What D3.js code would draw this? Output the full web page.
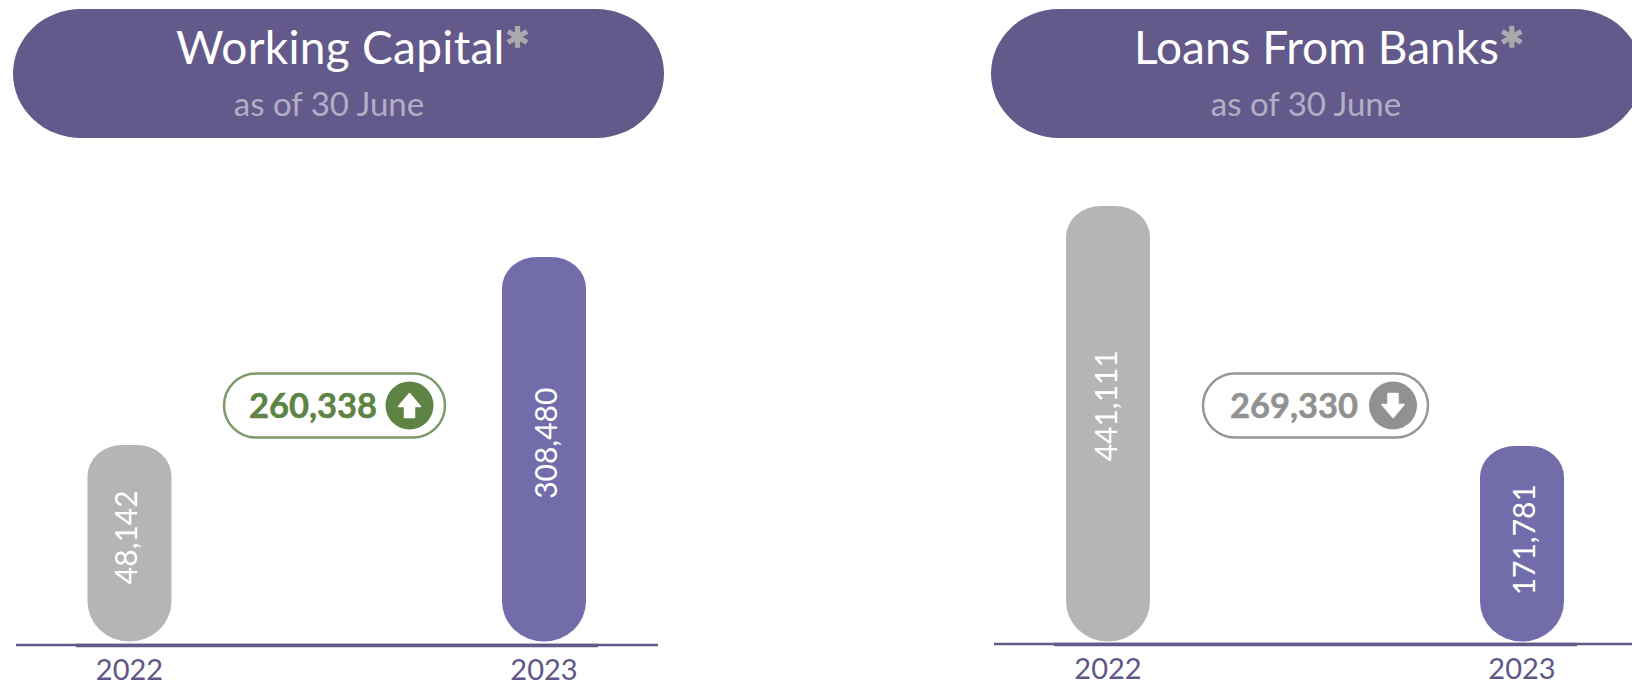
<!DOCTYPE html>
<html>
<head>
<meta charset="utf-8">
<script src="https://cdn.jsdelivr.net/npm/d3@7"></script>
<style>
  html, body { margin: 0; padding: 0; background: #fff; overflow: hidden; }
  svg { display: block; }
  text { font-family: Lato, "Noto Sans", sans-serif; }
</style>
</head>
<body>
<svg id="chart" width="1632" height="685"></svg>
<script>
// Figures in thousands, as of 30 June
const years = ["2022", "2023"];
const workingCapital = [48142, 308480];
const loansFromBanks = [441111, 171781];
const panelTitles = ["Working Capital", "Loans From Banks"];
const panelSubtitle = "as of 30 June";
const changes = [260338, 269330];
const directions = ["up", "down"];

const PURPLE = "#635a8b", BAR_PURPLE = "#736cab", GREY = "#b5b5b5";
const fmt = d3.format(",");
const svg = d3.select("#chart");
const barWidth = 84, baseY = 641.5;

// A bar with softer shoulders on top and a full round end at the bottom.
function barPath(x0, x1, top, bottom) {
  const rt = 35, rb = barWidth / 2, ryb = 40, ryt = 31;
  return `M${x0},${top + ryt}A${rt},${ryt} 0 0 1 ${x0 + rt},${top}L${x1 - rt},${top}` +
    `A${rt},${ryt} 0 0 1 ${x1},${top + ryt}L${x1},${bottom - ryb}` +
    `A${rb},${ryb} 0 0 1 ${x0 + rb},${bottom}A${rb},${ryb} 0 0 1 ${x0},${bottom - ryb}Z`;
}

const panels = [
  { title: panelTitles[0], values: workingCapital, change: changes[0], dir: directions[0],
    pill: [13, 664], titleX: 176, titleSpacing: 0.3, subX: 329, centers: [129.5, 544],
    yRange: [445, 257], thin: [16, 658], thick: [76, 598], axisY: 645, yearY: 679.5,
    badge: [224, 445], badgeColor: "#7d9a68", ink: "#5e8445", circleX: 409.5, textX: 313,
    labelShift: [[7, -6], [13, -6]] },
  { title: panelTitles[1], values: loansFromBanks, change: changes[1], dir: directions[1],
    pill: [991, 1642], titleX: 1134, titleSpacing: 0, subX: 1306, centers: [1108, 1522],
    yRange: [206, 446], thin: [994, 1632], thick: [1054, 1577], axisY: 644, yearY: 678.5,
    badge: [1203, 1428], badgeColor: "#969696", ink: "#919191", circleX: 1393, textX: 1294,
    labelShift: [[9, -18], [13, -4]] }
];

panels.forEach(p => {
  const g = svg.append("g");

  // Header pill
  g.append("rect")
    .attr("x", p.pill[0]).attr("y", 9)
    .attr("width", p.pill[1] - p.pill[0]).attr("height", 129)
    .attr("rx", 68).attr("ry", 64.5)
    .attr("fill", PURPLE);

  const title = g.append("text")
    .attr("x", p.titleX).attr("y", 64)
    .attr("font-size", 46).attr("fill", "#fff")
    .attr("letter-spacing", p.titleSpacing)
    .text(p.title);
  title.append("tspan")
    .attr("fill", "#aaa9ad").attr("stroke", "#aaa9ad").attr("stroke-width", 1.6)
    .attr("font-weight", 700).attr("font-size", 60).attr("dy", 8).text("*");

  g.append("text")
    .attr("x", p.subX).attr("y", 116)
    .attr("text-anchor", "middle")
    .attr("font-size", 33).attr("fill", "#b2aec6")
    .text(panelSubtitle);

  // Each panel has its own value scale, set by its two bar tops
  const x = d3.scalePoint().domain(years).range(p.centers);
  const y = d3.scaleLinear()
    .domain(d3.extent(p.values))
    .range(p.values[0] < p.values[1] ? p.yRange : [p.yRange[1], p.yRange[0]]);

  const rows = years.map((year, i) => ({ year, value: p.values[i], i }));

  g.selectAll("path.bar").data(rows).join("path")
    .attr("class", "bar")
    .attr("d", d => barPath(x(d.year) - barWidth / 2, x(d.year) + barWidth / 2, y(d.value), baseY))
    .attr("fill", d => d.i === 0 ? GREY : BAR_PURPLE);

  g.selectAll("text.value").data(rows).join("text")
    .attr("class", "value")
    .attr("transform", d => {
      const [dx, dy] = p.labelShift[d.i];
      return `translate(${x(d.year) + dx},${(y(d.value) + baseY) / 2 + dy}) rotate(-90)`;
    })
    .attr("text-anchor", "middle")
    .attr("font-size", 30).attr("fill", "#fff")
    .text(d => fmt(d.value));

  // Baseline: a thin full-width rule under a heavier central one
  g.append("line")
    .attr("x1", p.thin[0]).attr("x2", p.thin[1])
    .attr("y1", p.axisY).attr("y2", p.axisY)
    .attr("stroke", PURPLE).attr("stroke-width", 2.5);
  g.append("line")
    .attr("x1", p.thick[0]).attr("x2", p.thick[1])
    .attr("y1", p.axisY + 0.5).attr("y2", p.axisY + 0.5)
    .attr("stroke", PURPLE).attr("stroke-width", 3.5);

  g.selectAll("text.year").data(rows).join("text")
    .attr("class", "year")
    .attr("x", d => x(d.year)).attr("y", p.yearY)
    .attr("text-anchor", "middle")
    .attr("font-size", 29).attr("fill", "#5f5688")
    .text(d => d.year);

  // Change badge
  const midY = 405.5;
  g.append("rect")
    .attr("x", p.badge[0]).attr("y", 373.5)
    .attr("width", p.badge[1] - p.badge[0]).attr("height", 64)
    .attr("rx", 32).attr("ry", 32)
    .attr("fill", "#fff").attr("stroke", p.badgeColor).attr("stroke-width", 2.5);

  g.append("text")
    .attr("x", p.textX).attr("y", 417.5)
    .attr("text-anchor", "middle")
    .attr("font-size", 34.5).attr("font-weight", 700)
    .attr("fill", p.ink).attr("stroke", p.ink).attr("stroke-width", 0.5)
    .text(fmt(p.change));

  g.append("circle")
    .attr("cx", p.circleX).attr("cy", midY).attr("r", 24).attr("fill", p.ink);

  // Arrow glyph, flipped for a decrease
  const arrow = d3.path();
  arrow.moveTo(0, -12); arrow.lineTo(11, 1); arrow.lineTo(5, 1); arrow.lineTo(5, 12);
  arrow.lineTo(-5, 12); arrow.lineTo(-5, 1); arrow.lineTo(-11, 1); arrow.closePath();
  g.append("path")
    .attr("d", arrow.toString())
    .attr("transform", `translate(${p.circleX},${midY}) scale(1,${p.dir === "up" ? 1 : -1})`)
    .attr("fill", "#fff").attr("stroke", "#fff").attr("stroke-width", 1.5)
    .attr("stroke-linejoin", "round");
});
</script>
</body>
</html>
